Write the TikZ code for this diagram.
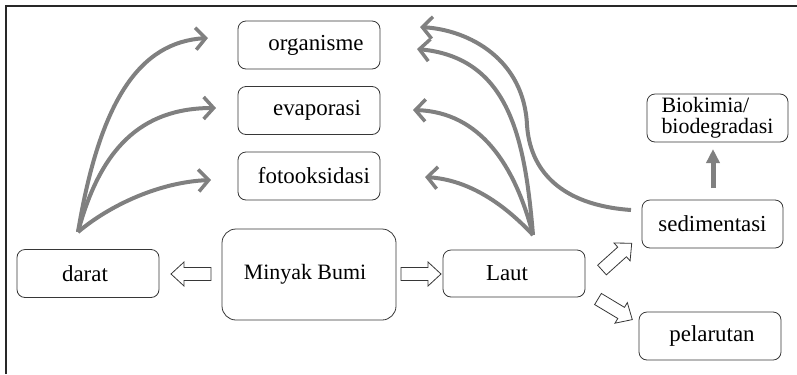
\documentclass[tikz,border=0pt]{standalone}
\usepackage{fontspec}
\setmainfont{Liberation Serif}
\usetikzlibrary{arrows.meta}
\definecolor{arrgray}{RGB}{128,128,128}
\definecolor{boxline}{RGB}{55,55,55}
\definecolor{framecol}{RGB}{40,40,40}
\begin{document}
\begin{tikzpicture}[x=1bp,y=-1bp,
  box/.style={draw=boxline, line width=0.8bp, rounded corners=8bp, minimum width=142bp, minimum height=48bp, inner sep=0pt, font=\fontsize{23}{22}\selectfont},
  curv/.style={draw=arrgray, line width=4bp, -{Straight Barb[length=10bp,width=22bp,line width=3.5bp]}},
  barrow/.pic={\draw[boxline, line width=0.8bp, fill=white, line join=miter] (0,-6.5)--(27,-6.5)--(27,-12)--(40,0)--(27,12)--(27,6.5)--(0,6.5)--cycle;}
]
\useasboundingbox (0,0) rectangle (797,374);
\draw[framecol, line width=1.6bp] (6,374) -- (6,6) -- (797,6);

\node[box] (org) at (309,45) {\hspace*{14bp}organisme};
\node[box] (eva) at (309,110.5) {\hspace*{16bp}evaporasi};
\node[box] (foto) at (309,176) {\hspace*{10bp}fotooksidasi};
\node[box] (darat) at (88,273.5) {darat\hspace*{6bp}};
\node[box, minimum width=174bp, minimum height=91bp, rounded corners=14bp, font=\fontsize{22}{22}\selectfont] (minyak) at (309,274.5) {Minyak Bumi\hspace*{8bp}};
\node[box, minimum height=47bp] (laut) at (514,273.5) {Laut\hspace*{14bp}};
\node[box, minimum width=141bp] (sed) at (712.5,224) {sedimentasi};
\node[box, minimum width=141bp, align=left, font=\fontsize{22}{21}\selectfont] (bio) at (717.5,118) {Biokimia/\\biodegradasi};
\node[box] (pel) at (710,336) {pelarutan\hspace*{-4bp}};

% block arrows
\pic[rotate=180] at (211,274) {barrow};
\pic at (401,274) {barrow};
\pic[rotate=42] at (602,270) {barrow};
\pic[rotate=-31] at (598,299) {barrow};

% start coordinates
\coordinate (ds) at (78,232);
\coordinate (ls) at (533,235);
\coordinate (ss) at (631,210);
\coordinate (tOrgL) at (208,38);
\coordinate (tEvaL) at (216,108);
\coordinate (tFotL) at (211,180);
\coordinate (tOrgR1) at (420,27);
\coordinate (tOrgR2) at (417,49);
\coordinate (tEvaR) at (413,110);
\coordinate (tFotR) at (425,177);

\draw[curv] (ds) .. controls (100,100) and (140,42) .. (tOrgL);
\draw[curv] (ds) .. controls (100,150) and (140,108) .. (tEvaL);
\draw[curv] (ds) .. controls (110,205) and (160,182) .. (tFotL);

\draw[curv] (ls) .. controls (525,140) and (510,58) .. (tOrgR2);
\draw[curv] (ls) .. controls (515,165) and (480,112) .. (tEvaR);
\draw[curv] (ls) .. controls (505,205) and (470,180) .. (tFotR);

\draw[curv] (ss) .. controls (560,205) and (530,170) .. (527,125) .. controls (524,60) and (470,30) .. (tOrgR1);

\coordinate (bs) at (713,188);
\coordinate (be) at (713,149);
\draw[arrgray, line width=5bp, -{Triangle[length=14bp,width=13bp]}] (bs) -- (be);
\end{tikzpicture}
\end{document}
